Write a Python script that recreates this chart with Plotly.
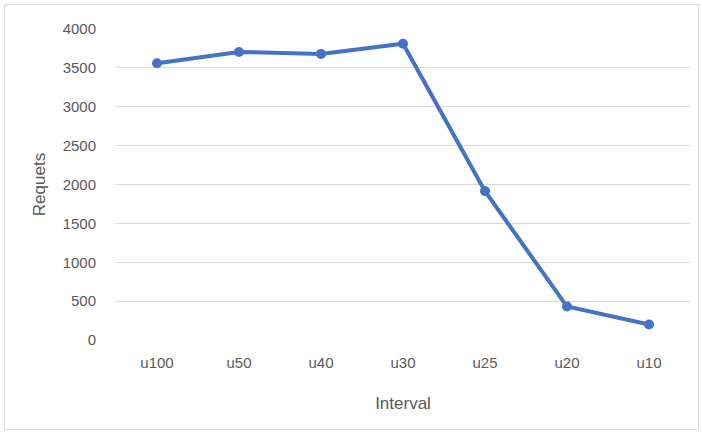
import plotly.graph_objects as go

categories = ["u100", "u50", "u40", "u30", "u25", "u20", "u10"]
requests = [3560, 3705, 3680, 3810, 1915, 430, 200]
y_ticks = [0, 500, 1000, 1500, 2000, 2500, 3000, 3500, 4000]

W, H = 702, 433
L, R, T, B = 116, 12, 29, 93

fig = go.Figure(go.Scatter(
    x=categories, y=requests, mode="lines+markers",
    line=dict(color="#4472C4", width=4),
    marker=dict(color="#4472C4", size=10),
    hoverinfo="skip",
))

pw, ph = W - L - R, H - T - B
def px(x): return (x - L) / pw
def py(y): return (H - B - y) / ph

fig.add_shape(type="rect", xref="paper", yref="paper",
              x0=px(4.5), x1=px(698.5), y0=py(4.5), y1=py(429.5),
              line=dict(color="#D9D9D9", width=1), layer="below")

tfont = dict(family="Liberation Sans", size=15, color="#595959")
afont = dict(family="Liberation Sans", size=17, color="#595959")
fig.update_layout(
    width=W, height=H, margin=dict(l=L, r=R, t=T, b=B),
    paper_bgcolor="white", plot_bgcolor="white", showlegend=False,
    font=tfont,
    xaxis=dict(type="category", range=[-0.5, len(categories) - 0.5],
               showgrid=False, showline=False, zeroline=False,
               ticks="outside", tickcolor="white", ticklen=9,
               tickfont=tfont,
               title=dict(text="Interval", font=afont, standoff=27)),
    yaxis=dict(range=[0, 4000], tickvals=y_ticks, showgrid=True,
               gridcolor="#D9D9D9", gridwidth=1, zeroline=False,
               showline=False, ticks="outside", tickcolor="white",
               ticklen=16, tickfont=tfont,
               title=dict(text="Requets", font=afont, standoff=12)),
)
fig.write_html("out.html", config={"displayModeBar": False},
               post_script="document.body.style.margin='0px';")
